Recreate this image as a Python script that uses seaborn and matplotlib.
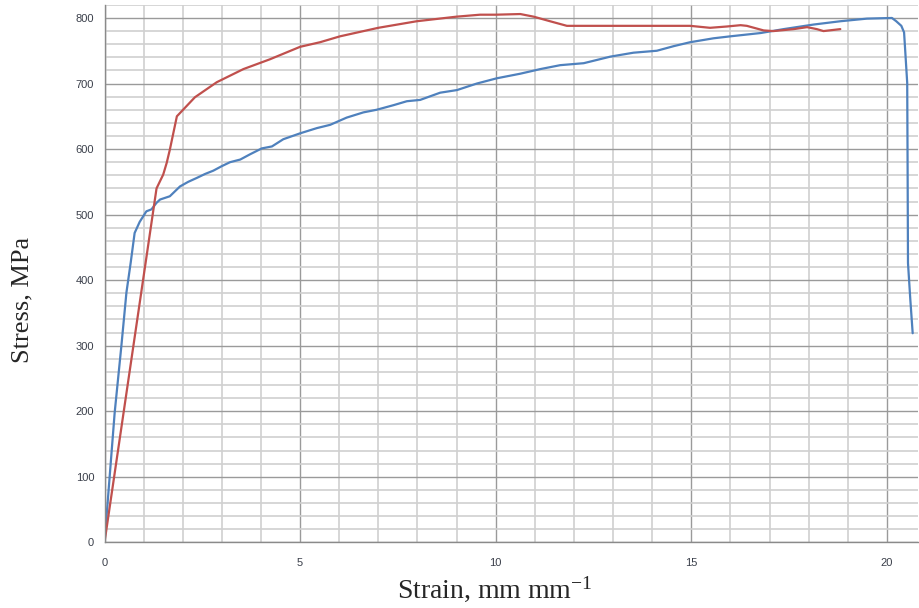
"""Stress-strain curves for two tensile specimens,
redrawn in the old spreadsheet look (fine grid, serif axis titles).
"""
import numpy as np
import pandas as pd

import seaborn as sea
import matplotlib.pyplot as plt

sea.set_style("white")
plt.rcParams["font.family"] = ["Liberation Sans", "DejaVu Sans"]
plt.rcParams["mathtext.fontset"] = "custom"
plt.rcParams["mathtext.rm"] = "Liberation Serif"
plt.rcParams["mathtext.it"] = "Liberation Serif:italic"


# values
blue_strain = [0, 0.26, 0.43, 0.56, 0.67, 0.77, 0.90, 1.07, 1.20, 1.33, 1.42,
    1.67, 1.93, 2.14, 2.36, 2.57, 2.78, 3.00, 3.21, 3.47, 3.72, 4.02, 4.28,
    4.57, 5.00, 5.43, 5.77, 6.19, 6.62, 6.96, 7.39, 7.73, 8.07, 8.58, 9.01,
    9.52, 10.03, 10.63, 11.14, 11.65, 12.25, 12.93, 13.52, 14.12, 14.55,
    14.97, 15.57, 16.00, 16.77, 17.36, 18.13, 18.81, 19.49, 20.13, 20.24,
    20.37, 20.44, 20.52, 20.53, 20.54, 20.60, 20.66]
blue_stress = [0, 198, 299, 381, 427, 472, 489, 505, 508, 518, 523,
    528, 543, 550, 556, 562, 567, 574, 580, 584, 592, 601, 604,
    615, 624, 632, 637, 648, 656, 660, 667, 673, 675, 686, 690,
    700, 708, 715, 722, 728, 731, 741, 747, 750, 757,
    763, 769, 772, 777, 783, 790, 795, 799, 800, 795,
    788, 778, 701, 573, 426, 370, 319]

red_strain = [0, 1.33, 1.50, 1.59, 1.67, 1.85, 1.93, 2.31, 2.87, 3.55, 4.23,
    5.00, 5.51, 6.02, 7.00, 7.98, 9.00, 9.60, 10.00, 10.63, 10.97, 11.39,
    11.82, 14.97, 15.48, 15.91, 16.26, 16.42, 16.85, 17.10, 17.62, 17.96,
    18.21, 18.38, 18.81]
red_stress = [0, 540, 561, 579, 599, 650, 655, 679, 702, 722, 737,
    756, 763, 772, 785, 795, 802, 805, 805, 806, 802, 795,
    788, 788, 785, 787, 789, 788, 781, 780, 783, 786,
    783, 780, 783]

df = pd.concat([
    pd.DataFrame({"strain": blue_strain, "stress": blue_stress, "specimen": "A"}),
    pd.DataFrame({"strain": red_strain, "stress": red_stress, "specimen": "B"}),
], ignore_index=True)

PALETTE = {"A": "#4F81BD", "B": "#C0504D"}


fig = plt.figure(figsize=(9.2, 6.08), dpi=100)
ax = fig.add_axes([0.1136, 0.108, 0.8844, 0.884])

sea.lineplot(data=df, x="strain", y="stress",
    hue="specimen", palette=PALETTE,
    sort=False, estimator=None, linewidth=1.6,
    legend=False, ax=ax)

ax.set_xlim(0, 20.8)
ax.set_ylim(0, 820)
ax.xaxis.set(major_locator=plt.MultipleLocator(5),
    minor_locator=plt.MultipleLocator(1))
ax.yaxis.set(major_locator=plt.MultipleLocator(100),
    minor_locator=plt.MultipleLocator(20))

ax.grid(which="minor", color="#d0d0d0", linewidth=1.2)
ax.grid(which="major", color="#9a9a9a", linewidth=1.0)
ax.set_axisbelow(True)

for side in ["top", "right"]:
    ax.spines[side].set_visible(False)
for side in ["left", "bottom"]:
    ax.spines[side].set_color("#8a8a8a")
    ax.spines[side].set_linewidth(1.0)

ax.tick_params(which="major", direction="out", length=3.5, width=1,
    color="#8a8a8a", labelsize=8, labelcolor="#3a3f4a")
ax.tick_params(axis="x", which="major", pad=8)
ax.tick_params(axis="y", which="major", pad=4)
ax.tick_params(which="minor", length=0)

ax.set_xlabel("Strain, mm mm$^{-1}$", fontsize=20,
    family=["Liberation Serif", "DejaVu Serif"])
ax.set_ylabel("Stress, MPa", fontsize=19,
    family=["Liberation Serif", "DejaVu Serif"])
ax.xaxis.set_label_coords(0.479, -0.060)
ax.yaxis.set_label_coords(-0.087, 0.451)

plt.savefig("out.png", dpi=100)
plt.close()
